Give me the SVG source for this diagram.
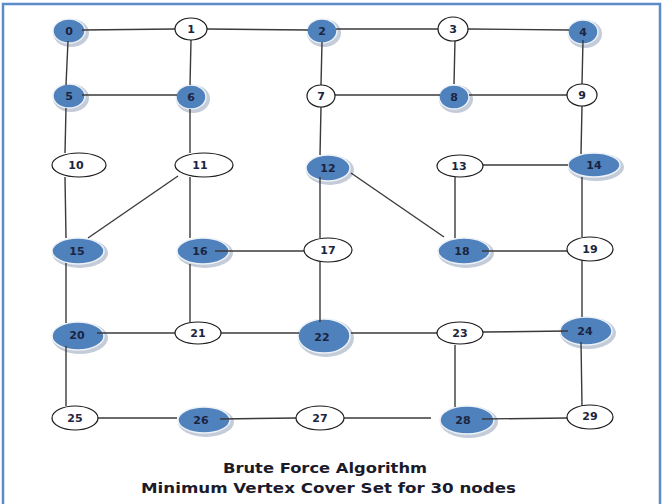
<svg xmlns="http://www.w3.org/2000/svg" width="662" height="504" viewBox="0 0 662 504">
<defs>
<style>
.bg{fill:#ffffff}
.frame{fill:none;stroke:#5b8bc9;stroke-width:2.5}
.e line{stroke:#3a3a3a;stroke-width:1.4;stroke-linecap:butt}
.sh{fill:#c3ccd8}
.b{fill:#4f81bd;stroke:#eef2f7;stroke-width:1.5}
.w{fill:#ffffff;stroke:#1a1a1a;stroke-width:1.2}
.t{font-family:"DejaVu Sans",Verdana,sans-serif;font-weight:bold;font-size:11px;fill:#1b2440;text-anchor:middle;dominant-baseline:central}
.title{font-family:"DejaVu Sans",Verdana,sans-serif;font-weight:bold;font-size:14px;fill:#1b1b2b}
</style>
</defs>
<rect class="bg" x="0" y="0" width="662" height="504"/>
<rect class="frame" x="3" y="4" width="657" height="520"/>

<g id="nodes-under">
<g id="n0"><ellipse class="sh" cx="71" cy="33" rx="18" ry="14"/><ellipse class="b" cx="69" cy="31" rx="16" ry="12"/><text class="t" x="69" y="31">0</text></g>
<g id="n2"><ellipse class="sh" cx="324" cy="33" rx="17" ry="14"/><ellipse class="b" cx="322" cy="31" rx="15" ry="12"/><text class="t" x="322" y="31">2</text></g>
<g id="n4"><ellipse class="sh" cx="585" cy="34" rx="17" ry="14"/><ellipse class="b" cx="583" cy="32" rx="15" ry="12"/><text class="t" x="583" y="32">4</text></g>
<g id="n5"><ellipse class="sh" cx="71" cy="98" rx="18" ry="14"/><ellipse class="b" cx="69" cy="96" rx="16" ry="12"/><text class="t" x="69" y="96">5</text></g>
<g id="n6"><ellipse class="sh" cx="193" cy="99" rx="17" ry="14"/><ellipse class="b" cx="191" cy="97" rx="15" ry="12"/><text class="t" x="191" y="97">6</text></g>
<g id="n8"><ellipse class="sh" cx="456" cy="99" rx="17" ry="14"/><ellipse class="b" cx="454" cy="97" rx="15" ry="12"/><text class="t" x="454" y="97">8</text></g>
<g id="n12"><ellipse class="sh" cx="330" cy="170" rx="24" ry="15"/><ellipse class="b" cx="328" cy="168" rx="22" ry="13"/><text class="t" x="328" y="168">12</text></g>
<g id="n14"><ellipse class="sh" cx="596" cy="167" rx="28" ry="14"/><ellipse class="b" cx="594" cy="165" rx="26" ry="12"/><text class="t" x="594" y="165">14</text></g>
<g id="n15"><ellipse class="sh" cx="80" cy="253" rx="28" ry="15"/><ellipse class="b" cx="78" cy="251" rx="26" ry="13"/><text class="t" x="77" y="251">15</text></g>
<g id="n16"><ellipse class="sh" cx="205" cy="253" rx="28" ry="15"/><ellipse class="b" cx="203" cy="251" rx="26" ry="13"/><text class="t" x="200" y="251">16</text></g>
<g id="n18"><ellipse class="sh" cx="466" cy="253" rx="28" ry="15"/><ellipse class="b" cx="464" cy="251" rx="26" ry="13"/><text class="t" x="462" y="251">18</text></g>
<g id="n20"><ellipse class="sh" cx="80" cy="338" rx="28" ry="16"/><ellipse class="b" cx="78" cy="336" rx="26" ry="14"/><text class="t" x="77" y="335">20</text></g>
<g id="n22"><ellipse class="sh" cx="326" cy="338" rx="28" ry="19"/><ellipse class="b" cx="324" cy="336" rx="26" ry="17"/><text class="t" x="322" y="337">22</text></g>
<g id="n24"><ellipse class="sh" cx="588" cy="333" rx="28" ry="16"/><ellipse class="b" cx="586" cy="331" rx="26" ry="14"/><text class="t" x="585" y="331">24</text></g>
<g id="n26"><ellipse class="sh" cx="206" cy="422" rx="28" ry="15"/><ellipse class="b" cx="204" cy="420" rx="26" ry="13"/><text class="t" x="201" y="420">26</text></g>
<g id="n28"><ellipse class="sh" cx="469" cy="422" rx="29" ry="16"/><ellipse class="b" cx="467" cy="420" rx="27" ry="14"/><text class="t" x="463" y="420">28</text></g>
</g>

<g id="connectors" class="e">
<line x1="82" y1="30" x2="175" y2="29"/>
<line x1="207" y1="29" x2="308" y2="30"/>
<line x1="336" y1="29" x2="438" y2="29"/>
<line x1="468" y1="29" x2="569" y2="30"/>
<line x1="68" y1="41" x2="66" y2="85"/>
<line x1="191" y1="40" x2="190" y2="85"/>
<line x1="322" y1="42" x2="321" y2="85"/>
<line x1="455" y1="40" x2="454" y2="84"/>
<line x1="583" y1="40" x2="582" y2="84"/>
<line x1="82" y1="95" x2="177" y2="95"/>
<line x1="335" y1="95" x2="440" y2="95"/>
<line x1="469" y1="95" x2="568" y2="95"/>
<line x1="66" y1="108" x2="65" y2="153"/>
<line x1="190" y1="109" x2="190" y2="153"/>
<line x1="321" y1="107" x2="320" y2="155"/>
<line x1="582" y1="106" x2="581" y2="154"/>
<line x1="65" y1="177" x2="66" y2="238"/>
<line x1="178" y1="176" x2="88" y2="238"/>
<line x1="190" y1="177" x2="190" y2="238"/>
<line x1="320" y1="177" x2="320" y2="238"/>
<line x1="351" y1="173" x2="444" y2="237"/>
<line x1="483" y1="165" x2="568" y2="165"/>
<line x1="455" y1="177" x2="455" y2="238"/>
<line x1="582" y1="177" x2="582" y2="237"/>
<line x1="215" y1="251" x2="304" y2="251"/>
<line x1="482" y1="251" x2="567" y2="251"/>
<line x1="66" y1="263" x2="66" y2="323"/>
<line x1="190" y1="264" x2="190" y2="322"/>
<line x1="320" y1="262" x2="320" y2="322"/>
<line x1="582" y1="261" x2="582" y2="317"/>
<line x1="97" y1="333" x2="175" y2="333"/>
<line x1="221" y1="333" x2="299" y2="333"/>
<line x1="351" y1="333" x2="437" y2="333"/>
<line x1="483" y1="332" x2="568" y2="331"/>
<line x1="66" y1="346" x2="66" y2="406"/>
<line x1="455" y1="345" x2="455" y2="407"/>
<line x1="581" y1="342" x2="582" y2="406"/>
<line x1="98" y1="418" x2="177" y2="418"/>
<line x1="220" y1="419" x2="297" y2="418"/>
<line x1="344" y1="418" x2="431" y2="418"/>
<line x1="482" y1="419" x2="567" y2="418"/>
</g>

<g id="nodes-white">
<g id="n1"><ellipse class="w" cx="191" cy="29" rx="16" ry="11"/><text class="t" x="191" y="29">1</text></g>
<g id="n3"><ellipse class="w" cx="453" cy="29" rx="15" ry="12"/><text class="t" x="453" y="29">3</text></g>
<g id="n7"><ellipse class="w" cx="321" cy="96" rx="14" ry="11"/><text class="t" x="321" y="96">7</text></g>
<g id="n9"><ellipse class="w" cx="582" cy="95" rx="15" ry="11"/><text class="t" x="582" y="95">9</text></g>
<g id="n10"><ellipse class="w" cx="79" cy="165" rx="27" ry="12"/><text class="t" x="76" y="165">10</text></g>
<g id="n11"><ellipse class="w" cx="204" cy="165" rx="29" ry="12"/><text class="t" x="200" y="165">11</text></g>
<g id="n13"><ellipse class="w" cx="460" cy="166" rx="23" ry="11"/><text class="t" x="459" y="166">13</text></g>
<g id="n17"><ellipse class="w" cx="328" cy="250" rx="24" ry="12"/><text class="t" x="328" y="250">17</text></g>
<g id="n19"><ellipse class="w" cx="590" cy="249" rx="23" ry="12"/><text class="t" x="590" y="249">19</text></g>
<g id="n21"><ellipse class="w" cx="198" cy="333" rx="23" ry="11"/><text class="t" x="198" y="333">21</text></g>
<g id="n23"><ellipse class="w" cx="460" cy="333" rx="23" ry="11"/><text class="t" x="460" y="333">23</text></g>
<g id="n25"><ellipse class="w" cx="75" cy="418" rx="23" ry="12"/><text class="t" x="75" y="418">25</text></g>
<g id="n27"><ellipse class="w" cx="320" cy="418" rx="24" ry="12"/><text class="t" x="320" y="418">27</text></g>
<g id="n29"><ellipse class="w" cx="590" cy="417" rx="23" ry="12"/><text class="t" x="590" y="416">29</text></g>
</g>

<g id="title">
<text class="title" x="223" y="473" textLength="204" lengthAdjust="spacingAndGlyphs">Brute Force Algorithm</text>
<text class="title" x="141" y="493" textLength="375" lengthAdjust="spacingAndGlyphs">Minimum Vertex Cover Set for 30 nodes</text>
</g>
</svg>
